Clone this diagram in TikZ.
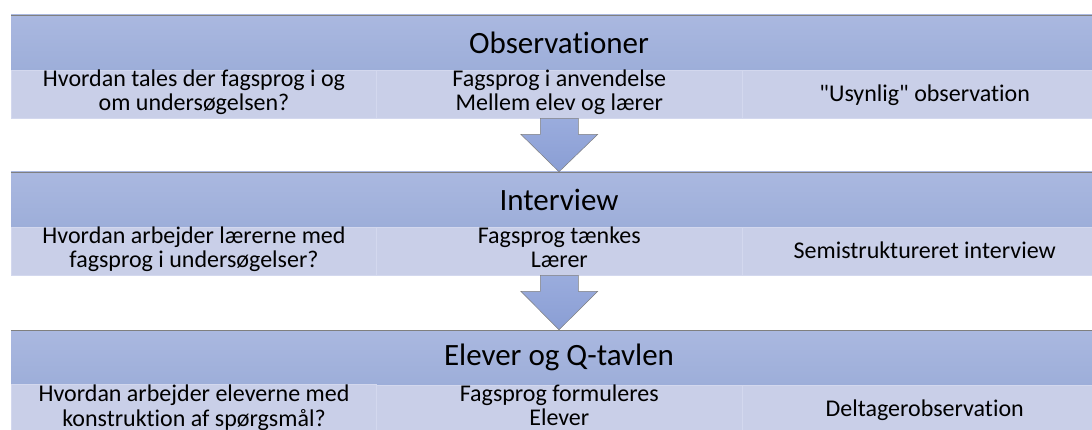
\documentclass[tikz,border=0pt]{standalone}
\usepackage{fontspec}
\setmainfont{Carlito}[Ligatures={TeXOff,CommonOff}]
\usetikzlibrary{calc}

\definecolor{hdrtop}{HTML}{AAB8E0}
\definecolor{hdrbot}{HTML}{9DAED9}
\definecolor{cellfill}{HTML}{C9CFE8}
\definecolor{cellline}{HTML}{D3D8EE}
\definecolor{arrowtop}{HTML}{9AACDD}
\definecolor{arrowbot}{HTML}{8A9ED4}
\definecolor{edgegray}{HTML}{7F7F7F}

\tikzset{
  header/.style={minimum width=1096pt, minimum height=55pt, inner sep=0pt,
    top color=hdrtop, bottom color=hdrbot, font=\fontsize{31}{36}\selectfont},
  cell/.style={minimum width=365.33pt, minimum height=48pt, inner sep=0pt,
    fill=cellfill, draw=cellline, line width=0.6pt, align=center,
    font=\fontsize{24}{24}\selectfont,
    execute at begin node={\rule{0pt}{22pt}}},
  blockarrow/.style={top color=arrowtop, bottom color=arrowbot,
    draw=edgegray, line width=0.5pt}
}

% block arrow from a cell row down to the next header
\newcommand{\bandarrow}[2]{%
  \path[blockarrow] ($(#1.south)+(-19,0)$) -- ($(#1.south)+(-19,-16)$)
    -- ($(#1.south)+(-38.5,-16)$) -- (#2.north)
    -- ($(#1.south)+(38.5,-16)$) -- ($(#1.south)+(19,-16)$)
    -- ($(#1.south)+(19,0)$) -- cycle;}

\begin{document}
\begin{tikzpicture}[x=1pt,y=1pt]

        \useasboundingbox (0,0) rectangle (1092,429);
        \clip (0,0) rectangle (1092,429);

        % Observationer
        \node[header] (obs) at (559,386.5) {Observationer};
        \node[cell] (obsA) at (194,335)
            {Hvordan tales der fagsprog i og\strut\\om undersøgelsen?\strut};
        \node[cell] (obsB) at (559.3,335)
            {Fagsprog i anvendelse\strut\\Mellem elev og lærer\strut};
        \node[cell] (obsC) at (924.7,335)
            {"Usynlig" observation\strut};
        \draw[edgegray] (obs.north west) -- (obs.north east);

        % Interview
        \node[header] (int) at (559,229.5) {Interview};
        \node[cell] (intA) at (194,178)
            {Hvordan arbejder lærerne med\strut\\fagsprog i undersøgelser?\strut};
        \node[cell] (intB) at (559.3,178)
            {Fagsprog tænkes\strut\\Lærer\strut};
        \node[cell] (intC) at (924.7,178)
            {Semistruktureret interview\strut};
        \draw[edgegray] (int.north west) -- (int.north east);

        % Elever og Q-tavlen
        \node[header] (elv) at (559,71.5) {Elever og Q-tavlen};
        \node[cell] (elvA) at (194,20)
            {Hvordan arbejder eleverne med\strut\\konstruktion af spørgsmål?\strut};
        \node[cell] (elvB) at (559.3,20)
            {Fagsprog formuleres\strut\\Elever\strut};
        \node[cell] (elvC) at (924.7,20)
            {Deltagerobservation\strut};
        \draw[edgegray] (elv.north west) -- (elv.north east);

        % Arrows between the bands
        \bandarrow{obsB}{int}
        \bandarrow{intB}{elv}

    \end{tikzpicture}
\end{document}
